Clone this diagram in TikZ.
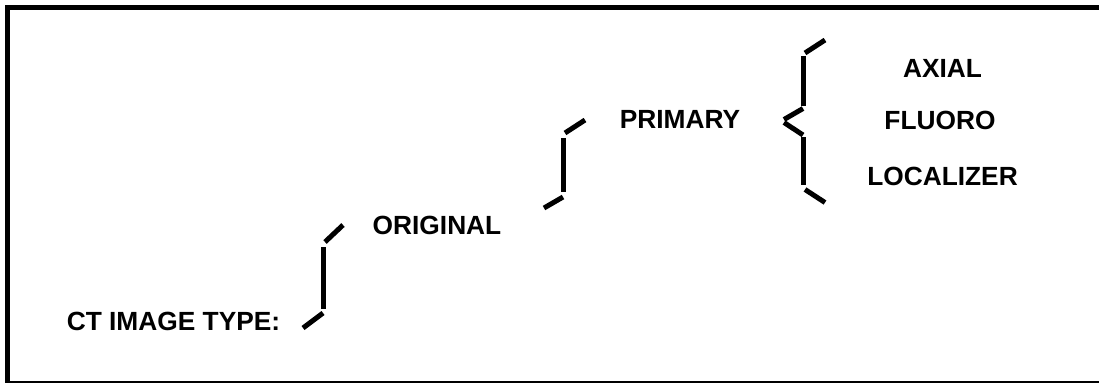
\documentclass[tikz,border=0pt]{standalone}
\usepackage{fontspec}
\setmainfont{Liberation Sans}
\usepackage{tikz}

\begin{document}
\begin{tikzpicture}[
  x=1pt, y=-1pt,
  lbl/.style={anchor=base, inner sep=0pt, font=\bfseries\fontsize{26.3}{30}\selectfont},
  seg/.style={line width=5pt},
  rim/.style={line width=5pt},
  base/.style={line width=2pt}
]
\useasboundingbox (0,0) rectangle (1099,383);
% frame, open on the right
\draw[rim] (5,7.5) -- (1099,7.5);
\draw[rim] (7.5,5) -- (7.5,383);
\draw[base] (5,381.5) -- (1099,381.5);

% labels, one per level
\node[lbl] (ct) at (173.5,330) {CT IMAGE TYPE:};
\node[lbl] (orig) at (437,234) {ORIGINAL};
\node[lbl] (prim) at (680,128) {PRIMARY};
\node[lbl] (axial) at (942.5,77) {AXIAL};
\node[lbl] (fluoro) at (940,129.5) {FLUORO};
\node[lbl] (loc) at (942.5,185) {LOCALIZER};

% brace: CT IMAGE TYPE -> ORIGINAL
\draw[seg] (303,328) -- (323,313);
\draw[seg] (323.5,309) -- (323.5,247);
\draw[seg] (325,242) -- (343,225);

% brace: ORIGINAL -> PRIMARY
\draw[seg] (544,208) -- (563,197);
\draw[seg] (563.5,192) -- (563.5,138);
\draw[seg] (565,133) -- (585,120);

% curly brace: PRIMARY -> AXIAL / FLUORO / LOCALIZER
\draw[seg] (805,53) -- (825,40);
\draw[seg] (803.5,56) -- (803.5,106);
\draw[seg] (803,108.5) -- (784,119.5);
\draw[seg] (784,122.5) -- (803,135);
\draw[seg] (803.5,137) -- (803.5,185);
\draw[seg] (805,189.5) -- (825,202.5);
\end{tikzpicture}
\end{document}
